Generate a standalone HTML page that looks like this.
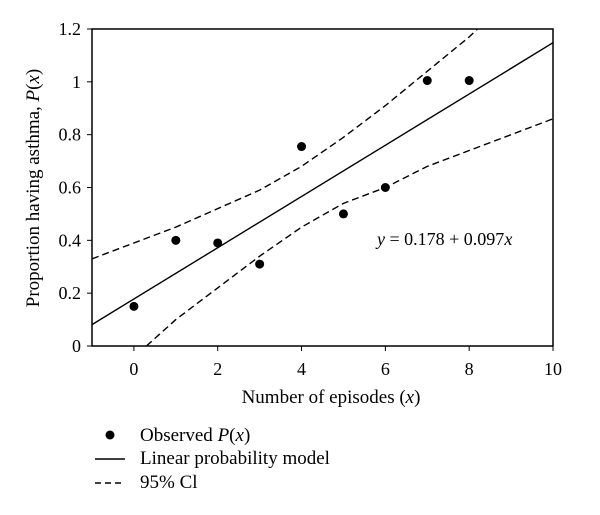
<!DOCTYPE html>
<html><head><meta charset="utf-8"><style>
body{margin:0;background:#fff}
svg{font-family:"Liberation Serif",serif;display:block}
</style></head><body>
<svg id="chart" width="600" height="515">
<defs><clipPath id="clip"><rect x="92" y="29" width="461" height="317"/></clipPath></defs>
</svg>
<script>
const obsX=[0,1,2,3,4,5,6,7,8];
const obsY=[0.15,0.40,0.39,0.31,0.755,0.50,0.60,1.005,1.005];
const fitX=[-1,10];
const fitY=[0.081,1.148];
const upperX=[-1,0,1,2,3,4,5,6,7,8,8.2];
const upperY=[0.33,0.39,0.45,0.52,0.59,0.68,0.79,0.91,1.04,1.17,1.2];
const lowerX=[0.3,1,2,3,4,5,6,7,8,9,10];
const lowerY=[0,0.1,0.22,0.34,0.45,0.54,0.60,0.68,0.74,0.80,0.86];
const xTicks=[0,2,4,6,8,10];
const yTicks=[0,0.2,0.4,0.6,0.8,1,1.2];
const L=92,R=553,T=29,B=346,xmin=-1,xmax=10,ymin=0,ymax=1.2;
const sx=v=>L+(v-xmin)/(xmax-xmin)*(R-L);
const sy=v=>B-(v-ymin)/(ymax-ymin)*(B-T);
const NS='http://www.w3.org/2000/svg';
const svg=document.getElementById('chart');
function mk(t,a,p){const e=document.createElementNS(NS,t);for(const k in a)e.setAttribute(k,a[k]);(p||svg).appendChild(e);return e;}
const frame=mk('rect',{x:L,y:T,width:R-L,height:B-T,fill:'none',stroke:'#000','stroke-width':1.5});


xTicks.forEach(v=>{
 const t=mk('line',{x1:sx(v),x2:sx(v),y1:B,y2:B+5,stroke:'#000'});
 
 
 const l=mk('text',{x:sx(v),y:B+29,'text-anchor':'middle','font-size':18});
 l.textContent=v;
 
 
});
yTicks.forEach(v=>{
 const t=mk('line',{x1:L-5,x2:L,y1:sy(v),y2:sy(v),stroke:'#000'});
 
 
 const l=mk('text',{x:L-11,y:sy(v)+6,'text-anchor':'end','font-size':18});
 l.textContent=v;
 
 
});
const g=mk('g',{'clip-path':'url(#clip)'});
const pts=(xs,ys)=>xs.map((x,i)=>sx(x)+','+sy(ys[i])).join(' ');
const up=mk('polyline',{points:pts(upperX,upperY),fill:'none',stroke:'#000','stroke-width':1.4,'stroke-dasharray':'7,4'},g);


const lo=mk('polyline',{points:pts(lowerX,lowerY),fill:'none',stroke:'#000','stroke-width':1.4,'stroke-dasharray':'7,4'},g);


const fit=mk('polyline',{points:pts(fitX,fitY),fill:'none',stroke:'#000','stroke-width':1.4},g);


obsX.forEach((x,i)=>{
 const c=mk('circle',{cx:sx(x),cy:sy(obsY[i]),r:4.5,fill:'#000'});
 
 
});
</script>
<svg style="position:absolute;left:0;top:0" width="600" height="515" font-family="Liberation Serif, serif">
<text x="377" y="245" font-size="18"><tspan font-style="italic">y</tspan> = 0.178 + 0.097<tspan font-style="italic">x</tspan></text>
<text x="331" y="403" text-anchor="middle" font-size="19">Number of episodes (<tspan font-style="italic">x</tspan>)</text>
<text transform="translate(39,188) rotate(-90)" text-anchor="middle" font-size="19">Proportion having asthma, <tspan font-style="italic">P</tspan>(<tspan font-style="italic">x</tspan>)</text>
<g font-size="19">
<circle cx="110" cy="435" r="4.5" fill="#000"/>
<text x="140" y="441">Observed <tspan font-style="italic">P</tspan>(<tspan font-style="italic">x</tspan>)</text>
<line x1="95" x2="125" y1="459" y2="459" stroke="#000" stroke-width="1.4"/>
<text x="140" y="464">Linear probability model</text>
<line x1="95" x2="125" y1="483" y2="483" stroke="#000" stroke-width="1.4" stroke-dasharray="6,4"/>
<text x="140" y="488">95% Cl</text>
</g>
</svg>
</body></html>
